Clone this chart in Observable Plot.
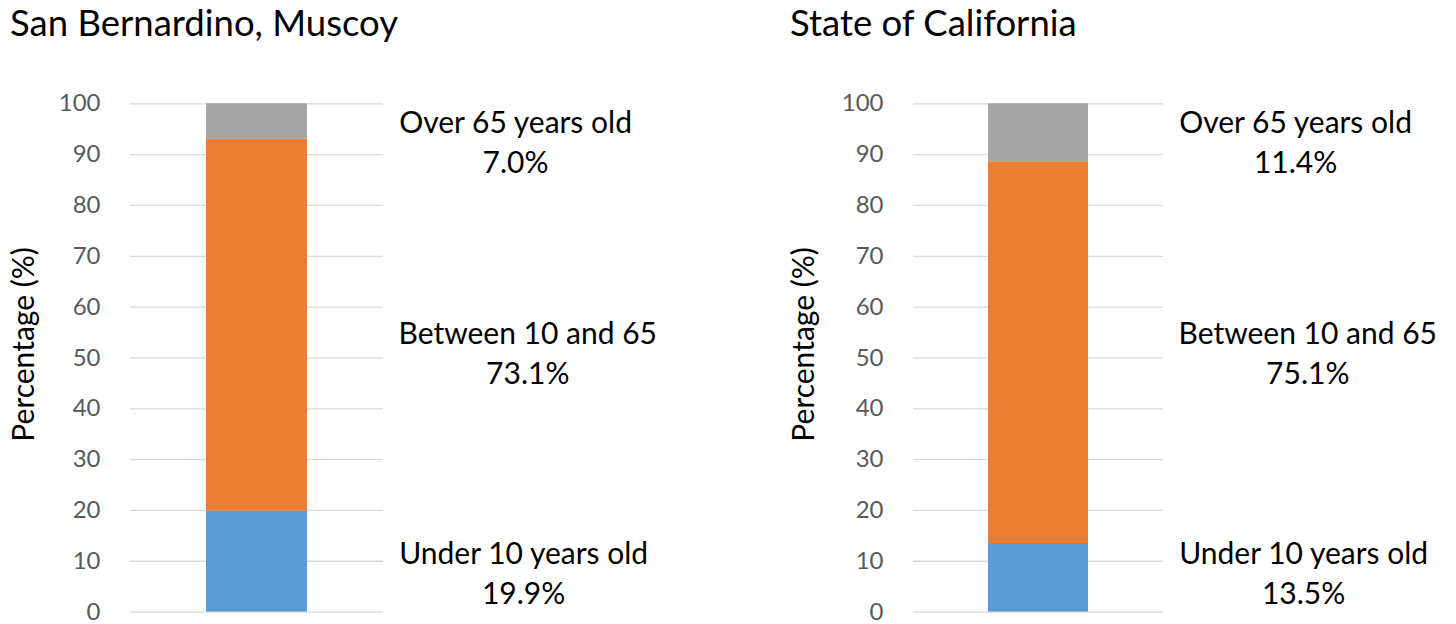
<!DOCTYPE html>
<html>
<head>
<meta charset="utf-8">
<script src="https://cdn.jsdelivr.net/npm/d3@7"></script>
<script src="https://cdn.jsdelivr.net/npm/@observablehq/plot@0.6"></script>
<style>
  body { margin: 0; background: #fff; }
  #wrap { position: relative; width: 1456px; height: 624px; overflow: hidden; }
  .panel { position: absolute; top: 0; }
  .title { height: 60px; box-sizing: border-box; padding: 0 0 0 10px; font: 36.5px/44px Lato, sans-serif; color: #000; white-space: nowrap; }
  svg { display: block; }
</style>
</head>
<body>
<div id="wrap"></div>
<script>
// ---- data ----
const regions = ["San Bernardino, Muscoy", "State of California"];
const groups = ["Under 10 years old", "Between 10 and 65", "Over 65 years old"];
const muscoyValues = [19.9, 73.1, 7.0];
const californiaValues = [13.5, 75.1, 11.4];
const yTicks = [0, 10, 20, 30, 40, 50, 60, 70, 80, 90, 100];
const yLabel = "Percentage (%)";

// ---- styling / layout ----
const colors = ["#5b9bd5", "#ed7d31", "#a5a5a5"];
const labelFont = 30;
const labelRowY = {"Under 10 years old": 8.0, "Between 10 and 65": 51.4, "Over 65 years old": 92.9};
const ctx = document.createElement("canvas").getContext("2d");
ctx.font = `${labelFont}px Lato`;
const measure = s => ctx.measureText(s).width;

function panel(region, values, left, width, marginLeft, marginRight) {
  const rows = groups.map((g, i) => ({region, group: g, value: values[i]}));
  const div = document.createElement("div");
  div.className = "panel";
  div.style.left = left + "px";
  div.style.width = width + "px";
  const t = document.createElement("div");
  t.className = "title";
  t.textContent = region;
  div.appendChild(t);

  const labelLeft = 398;
  const labelMarks = rows.map(r => {
    const center = labelLeft + measure(r.group) / 2;
    return Plot.text([r], {
      frameAnchor: "left",
      y: d => labelRowY[d.group],
      text: d => `${d.group}\n${d.value.toFixed(1)}%`,
      dx: center - marginLeft,
      textAnchor: "middle",
      lineHeight: 40 / labelFont,
      fontSize: labelFont,
      fill: "#000"
    });
  });

  const chart = Plot.plot({
    width,
    height: 564,
    marginTop: 43.3,
    marginBottom: 12.4,
    marginLeft,
    marginRight,
    x: {domain: [region], padding: 0.427, axis: null},
    y: {domain: [0, 100], axis: null},
    color: {domain: groups, range: colors},
    style: {fontFamily: "Lato", fontSize: "24px", color: "#595959", background: "transparent", overflow: "visible"},
    marks: [
      Plot.ruleY(yTicks, {stroke: "#d9d9d9", strokeWidth: 1.3}),
      Plot.barY(rows, {x: "region", y: "value", fill: "group"}),
      Plot.axisY({ticks: yTicks, tickSize: 0, tickPadding: 30, fontSize: 24, label: null, fill: "#595959"}),
      Plot.text([yLabel], {frameAnchor: "left", textAnchor: "middle", dx: 23.4 - marginLeft, dy: -13.5, rotate: -90, fontSize: labelFont, fill: "#000"}),
      ...labelMarks
    ]
  });
  div.appendChild(chart);
  document.getElementById("wrap").appendChild(div);
}

panel(regions[0], muscoyValues, 0, 780, 130, 397);
panel(regions[1], californiaValues, 780, 676, 133, 293);
</script>
</body>
</html>
